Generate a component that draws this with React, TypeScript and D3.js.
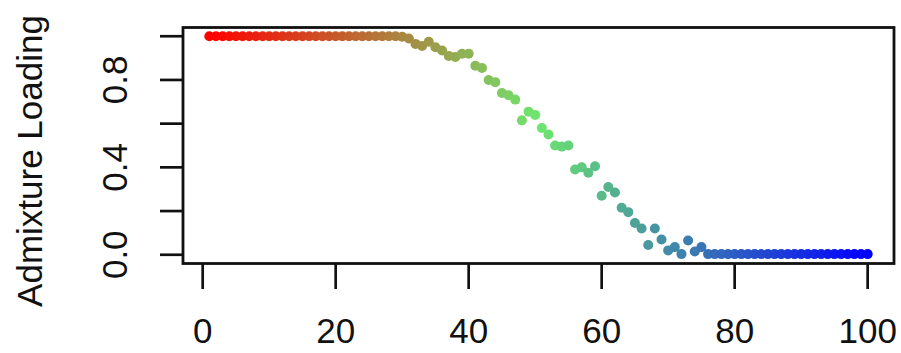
import React from "react";
import * as d3 from "d3";

// Admixture loading per sample (index 1..100)
const sampleIndex: number[] = Array.from({ length: 100 }, (_, i) => i + 1);
const loading: number[] = [
  1, 1, 1, 1, 1, 1, 1, 1, 1, 1,
  1, 1, 1, 1, 1, 1, 1, 1, 1, 1,
  1, 1, 1, 1, 1, 1, 1, 1, 1, 0.998,
  0.99, 0.965, 0.955, 0.975, 0.95, 0.935, 0.91, 0.905, 0.92, 0.92,
  0.865, 0.855, 0.8, 0.79, 0.74, 0.73, 0.71, 0.615, 0.655, 0.64,
  0.58, 0.55, 0.5, 0.495, 0.5, 0.39, 0.4, 0.375, 0.405, 0.27,
  0.31, 0.285, 0.215, 0.195, 0.145, 0.12, 0.045, 0.12, 0.07, 0.02,
  0.035, 0.003, 0.065, 0.015, 0.035, 0.003, 0.003, 0.003, 0.003, 0.003,
  0.003, 0.003, 0.003, 0.003, 0.003, 0.003, 0.003, 0.003, 0.003, 0.003,
  0.003, 0.003, 0.003, 0.003, 0.003, 0.003, 0.003, 0.003, 0.003, 0.003,
];
const paletteStops: string[] = ["#ff0000", "#6ee66e", "#0000ff"];
const xTicks: number[] = [0, 20, 40, 60, 80, 100];
const yTicks: number[] = [0, 0.2, 0.4, 0.6, 0.8, 1.0];
const yTickLabels: { v: number; label: string }[] = [
  { v: 0, label: "0.0" },
  { v: 0.4, label: "0.4" },
  { v: 0.8, label: "0.8" },
];
const yTitle = "Admixture Loading";

const W = 901;
const H = 353;
const box = { left: 183, right: 894, top: 27.5, bottom: 263.5 };
const FONT = "'Liberation Sans', Arial, Helvetica, sans-serif";

export default function App() {
  const x = d3.scaleLinear().domain([-2.96, 103.96]).range([box.left, box.right]);
  const y = d3.scaleLinear().domain([-0.04, 1.04]).range([box.bottom, box.top]);
  const color = d3
    .scaleLinear<string>()
    .domain([1, 50.5, 100])
    .range(paletteStops)
    .interpolate(d3.interpolateRgb);

  const ink = "#111";
  return (
    <svg
      width={W}
      height={H}
      style={{ position: "absolute", left: 0, top: 0, background: "#fff" }}
    >
      <rect x={0} y={0} width={W} height={H} fill="#fff" />
      {sampleIndex.map((s, i) => (
        <circle key={s} cx={x(s)} cy={y(loading[i])} r={5} fill={color(s)} />
      ))}
      <rect
        x={box.left}
        y={box.top}
        width={box.right - box.left}
        height={box.bottom - box.top}
        fill="none"
        stroke={ink}
        strokeWidth={2.8}
      />
      {xTicks.map((t) => (
        <g key={"x" + t}>
          <line x1={x(t)} x2={x(t)} y1={box.bottom} y2={289} stroke={ink} strokeWidth={2.7} />
          <text
            x={x(t)}
            y={343}
            textAnchor="middle"
            fontFamily={FONT}
            fontSize={35}
            fill={ink}
          >
            {t}
          </text>
        </g>
      ))}
      {yTicks.map((t) => (
        <line key={"y" + t} x1={160} x2={box.left} y1={y(t)} y2={y(t)} stroke={ink} strokeWidth={2.7} />
      ))}
      {yTickLabels.map((d) => (
        <text
          key={"yl" + d.label}
          transform={`translate(127,${y(d.v)}) rotate(-90)`}
          textAnchor="middle"
          fontFamily={FONT}
          fontSize={35}
          fill={ink}
        >
          {d.label}
        </text>
      ))}
      <text
        transform={`translate(42,161) rotate(-90)`}
        textAnchor="middle"
        fontFamily={FONT}
        fontSize={35}
        fill={ink}
      >
        {yTitle}
      </text>
    </svg>
  );
}
